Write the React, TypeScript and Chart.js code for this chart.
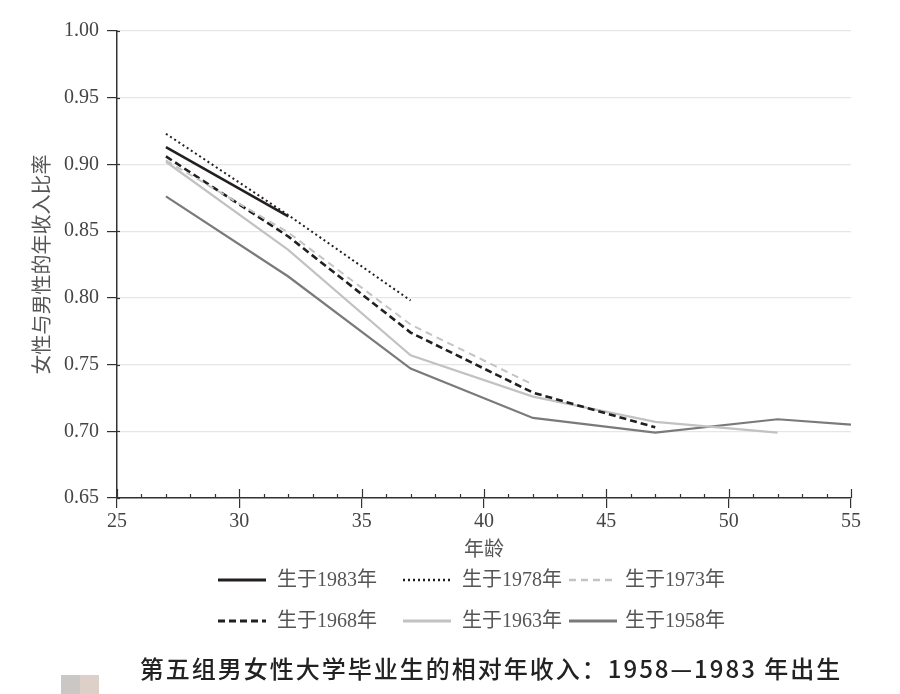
import { useEffect, useRef } from 'react';
import { Chart, registerables } from 'chart.js';

Chart.register(...registerables);

const ages = [27, 32, 37, 42, 47, 52, 55];
const born1983 = [0.913, 0.861];
const born1978 = [0.923, 0.862, 0.798];
const born1973 = [0.903, 0.849, 0.78, 0.735];
const born1968 = [0.906, 0.846, 0.774, 0.729, 0.703];
const born1963 = [0.902, 0.836, 0.757, 0.726, 0.707, 0.699];
const born1958 = [0.876, 0.816, 0.747, 0.71, 0.699, 0.709, 0.705];
const seriesLabels = ['生于1983年', '生于1978年', '生于1973年', '生于1968年', '生于1963年', '生于1958年'];
const xTitle = '年龄';
const yTitle = '女性与男性的年收入比率';
const caption = '第五组男女性大学毕业生的相对年收入：1958—1983 年出生';

const styles = [
  { color: '#231f20', width: 2.6, dash: [] as number[] },
  { color: '#231f20', width: 2, dash: [2, 3] },
  { color: '#c4c4c4', width: 2, dash: [7, 5] },
  { color: '#231f20', width: 2.6, dash: [7, 4] },
  { color: '#c2c2c2', width: 2.2, dash: [] as number[] },
  { color: '#7a7a7a', width: 2.2, dash: [] as number[] },
];

const allSeries = [born1983, born1978, born1973, born1968, born1963, born1958];

const serif = "'Liberation Serif', 'Noto Sans CJK SC', serif";

const decorPlugin = {
  id: 'decor',
  afterDraw(chart: any) {
    const ctx = chart.ctx;
    const xs = chart.scales.x;
    const ys = chart.scales.y;
    const axisY = ys.getPixelForValue(0.65);
    const axisX = xs.getPixelForValue(25);
    ctx.save();
    ctx.strokeStyle = '#333';
    ctx.lineWidth = 1.2;
    for (let v = 25; v <= 55; v++) {
      const px = Math.round(xs.getPixelForValue(v)) + 0.5;
      ctx.beginPath();
      if (v % 5 === 0) {
        ctx.moveTo(px, axisY - 9);
        ctx.lineTo(px, axisY);
      } else {
        ctx.moveTo(px, axisY - 4);
        ctx.lineTo(px, axisY);
      }
      ctx.stroke();
    }
    for (let i = 0; i <= 7; i++) {
      const v = 0.65 + i * 0.05;
      const py = Math.round(ys.getPixelForValue(v)) + 0.5;
      ctx.beginPath();
      ctx.moveTo(axisX, py);
      ctx.lineTo(axisX + 3, py);
      ctx.stroke();
    }
    ctx.fillStyle = '#555';
    ctx.font = "20px 'Noto Sans CJK SC', sans-serif";
    ctx.textAlign = 'center';
    ctx.textBaseline = 'middle';
    ctx.fillText(xTitle, (xs.left + xs.right) / 2, 548);
    ctx.save();
    ctx.translate(41, (ys.top + ys.bottom) / 2);
    ctx.rotate(-Math.PI / 2);
    ctx.fillText(yTitle, 0, 0);
    ctx.restore();
    const cols = [
      { lx: 218, tx: 277 },
      { lx: 403, tx: 462 },
      { lx: 569, tx: 625 },
    ];
    const rows = [580, 621];
    ctx.font = `20px ${serif}`;
    ctx.textAlign = 'left';
    for (let i = 0; i < seriesLabels.length; i++) {
      const c = cols[i % 3];
      const y = rows[Math.floor(i / 3)];
      const st = styles[i];
      ctx.save();
      ctx.strokeStyle = st.color;
      ctx.lineWidth = st.width + 0.6;
      ctx.setLineDash(st.dash);
      ctx.beginPath();
      ctx.moveTo(c.lx, y);
      ctx.lineTo(c.lx + 48, y);
      ctx.stroke();
      ctx.restore();
      ctx.fillStyle = '#555';
      ctx.fillText(seriesLabels[i], c.tx, y + 1);
    }
    ctx.fillStyle = '#222';
    ctx.font = "500 24px 'Noto Sans CJK SC', sans-serif";
    (ctx as any).letterSpacing = '2px';
    ctx.textAlign = 'center';
    ctx.fillText(caption, 491, 669);
    (ctx as any).letterSpacing = '0px';
    ctx.fillStyle = '#cbc7c5';
    ctx.fillRect(61, 675, 19, 19);
    ctx.fillStyle = '#ddd0c9';
    ctx.fillRect(80, 675, 19, 19);
    ctx.restore();
  },
};

export default function App() {
  const ref = useRef<HTMLCanvasElement | null>(null);
  useEffect(() => {
    if (!ref.current) return;
    const chart = new Chart(ref.current, {
      type: 'line',
      data: {
        datasets: allSeries.map((arr, i) => ({
          label: seriesLabels[i],
          data: arr.map((v, j) => ({ x: ages[j], y: v })),
          borderColor: styles[i].color,
          borderWidth: styles[i].width,
          borderDash: styles[i].dash,
          pointRadius: 0,
          fill: false,
          tension: 0,
        })),
      },
      options: {
        animation: false,
        responsive: false,
        devicePixelRatio: 1,
        layout: { padding: { left: 30, right: 49, top: 31, bottom: 0 } },
        plugins: { legend: { display: false }, tooltip: { enabled: false } },
        scales: {
          x: {
            type: 'linear',
            min: 25,
            max: 55,
            afterFit: (s: any) => {
              s.height = 196;
            },
            ticks: {
              stepSize: 5,
              color: '#444',
              padding: 2,
              font: { family: serif, size: 20 },
            },
            grid: { drawOnChartArea: false, tickLength: 10, color: '#333', lineWidth: 1.2 },
            border: { display: true, color: '#333', width: 1.5 },
          },
          y: {
            type: 'linear',
            min: 0.65,
            max: 1.0,
            afterFit: (s: any) => {
              s.width = 87;
            },
            ticks: {
              stepSize: 0.05,
              color: '#444',
              padding: 8,
              font: { family: serif, size: 20 },
              callback: (v: any) => Number(v).toFixed(2),
            },
            grid: { color: '#e6e6e6', tickColor: '#333', tickLength: 10, lineWidth: 1.2 },
            border: { display: true, color: '#333', width: 1.5 },
          },
        },
      },
      plugins: [decorPlugin],
    });
    return () => chart.destroy();
  }, []);
  return (
    <div style={{ position: 'absolute', left: 0, top: 0, width: 900, height: 694, background: '#fff' }}>
      <canvas ref={ref} width={900} height={694} />
    </div>
  );
}
